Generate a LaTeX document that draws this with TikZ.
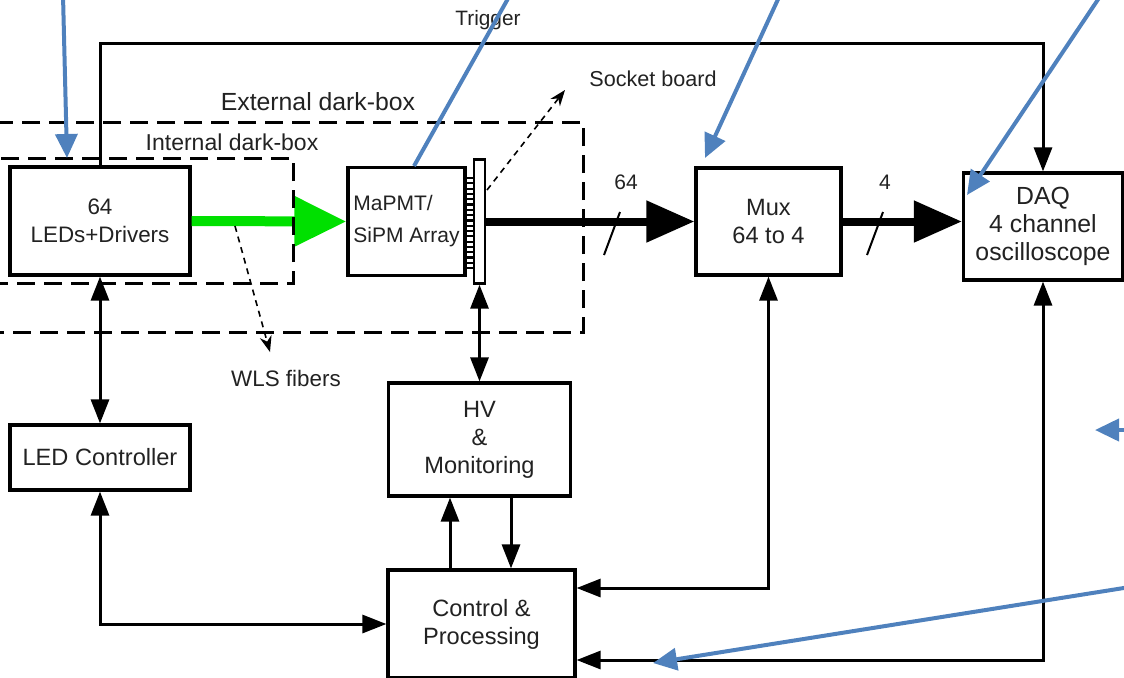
\documentclass[tikz,border=0pt]{standalone}
\usepackage{fontspec}
\setmainfont{Liberation Sans}
\usetikzlibrary{arrows.meta,calc}
\definecolor{calloutblue}{HTML}{4F81BD}
\definecolor{beamgreen}{HTML}{00E000}
\definecolor{inkgray}{HTML}{222222}
\tikzset{
  block/.style={draw,line width=1.6pt,fill=white,text=inkgray,align=center,inner sep=0pt,font=\fontsize{11.8}{14}\selectfont},
  link/.style={line width=1.5pt,>={Triangle[length=12pt,width=9pt]}},
  bus/.style={line width=4pt,-{Triangle[length=24pt,width=20pt]}},
  beam/.style={beamgreen,line width=5pt,-{Triangle[length=26pt,width=24pt]}},
  darkbox/.style={line width=1.5pt,dash pattern=on 9pt off 4.5pt},
  hint/.style={line width=0.8pt,dash pattern=on 3pt off 2.5pt,-{Stealth[length=8pt,width=6pt]}},
  callout/.style={calloutblue,line width=2pt,-{Triangle[length=12pt,width=11pt]}},
  caption/.style={text=inkgray,inner sep=0pt,font=\fontsize{11.2}{13}\selectfont}
}

\begin{document}
\begin{tikzpicture}[x=0.5pt,y=-0.5pt]
\useasboundingbox (0,0) rectangle (1124,677);
\clip (0,0) rectangle (1124,677);

% blocks
\node[block,minimum width=90pt,minimum height=54pt,font=\fontsize{11.2}{14}\selectfont] (leds) at (100,221) {64\\LEDs+Drivers};
\node[block,minimum width=58.5pt,minimum height=54pt,align=left,font=\fontsize{10.5}{16}\selectfont] (mapmt) at (406.5,221.5) {MaPMT/\\SiPM Array};
\node[draw,line width=1.2pt,fill=white,minimum width=5.5pt,minimum height=62pt,inner sep=0pt] (socket) at (479.5,221.5) {};
\node[block,minimum width=72.5pt,minimum height=53.5pt] (mux) at (768.5,221.5) {Mux\\64 to 4};
\node[block,minimum width=79.5pt,minimum height=53.5pt,font=\fontsize{12.4}{14}\selectfont] (daq) at (1043,226.5) {DAQ\\4 channel\\oscilloscope};
\node[block,minimum width=90pt,minimum height=32.5pt] (ledctrl) at (100,457.5) {LED Controller};
\node[block,minimum width=91pt,minimum height=56.5pt] (hv) at (479.5,439.5) {HV\\\&\\Monitoring};
\node[block,minimum width=93.5pt,minimum height=54pt] (ctrl) at (481.5,624) {Control \&\\Processing};

% pins of the socket board
\foreach \k in {0,...,17}
  \draw[line width=1.1pt] (466,178+5.3*\k) -- (474,178+5.3*\k);

% trigger
\coordinate (trigbend) at (100,43);
\draw[link,->] (leds.north) -- (trigbend) -| (daq.north);
\node[caption,font=\fontsize{10.4}{12}\selectfont] (triglabel) at (488,20) {Trigger};

% light and signal path
\draw[beam] (leds.east) -- (mapmt.west);
\draw[bus] (socket.east) -- (mux.west);
\draw[bus] (mux.east) -- (mux.east -| daq.west);
\draw[line width=1pt] (604,255) -- (620,212);
\node[caption,font=\fontsize{10.5}{12}\selectfont] (n64) at (626,182) {64};
\draw[line width=1pt] (867,255) -- (883,212);
\node[caption,font=\fontsize{10.5}{12}\selectfont] (n4) at (885,182) {4};

% control connections
\draw[link,<->] (leds.south) -- (ledctrl.north);
\draw[link,<->] (socket.south) -- (hv.north);
\coordinate (upx) at ($(ctrl.north)+(-31.5,0)$);
\coordinate (downx) at ($(ctrl.north)+(29.5,0)$);
\draw[link,->] (upx) -- (upx |- hv.south);
\draw[link,->] (downx |- hv.south) -- (downx);
\draw[link,<->] (ledctrl.south) |- (ctrl.west);
\coordinate (muxin) at ($(ctrl.east)+(0,-36)$);
\coordinate (daqin) at ($(ctrl.east)+(0,36)$);
\draw[link,<->] (mux.south) |- (muxin);
\draw[link,<->] (daq.south) |- (daqin);

% dark boxes
\draw[darkbox] (-20,122) rectangle (583,332);
\draw[darkbox] (-20,158) rectangle (293,283);
\node[caption,font=\fontsize{12.4}{14}\selectfont] (extlabel) at (318,102) {External dark-box};
\node[caption,font=\fontsize{11.5}{14}\selectfont] (intlabel) at (232,142) {Internal dark-box};

% pointers
\draw[hint] (235,226) -- (270,352);
\node[caption] (wlslabel) at (286,378) {WLS fibers};
\draw[hint] (487,190) -- (565,90);
\node[caption,font=\fontsize{10.8}{13}\selectfont] (socklabel) at (653,79) {Socket board};

% blue callouts
\draw[callout] (63,-5) -- (67,158);
\draw[calloutblue,line width=2pt] (510,-5) -- (414,166);
\draw[callout] (780,-5) -- (705,158);
\draw[callout] (1101,-5) -- (967,195);
\draw[callout] (1130,430) -- (1095,430);
\draw[callout] (1130,587) -- (653,663);
\end{tikzpicture}
\end{document}
